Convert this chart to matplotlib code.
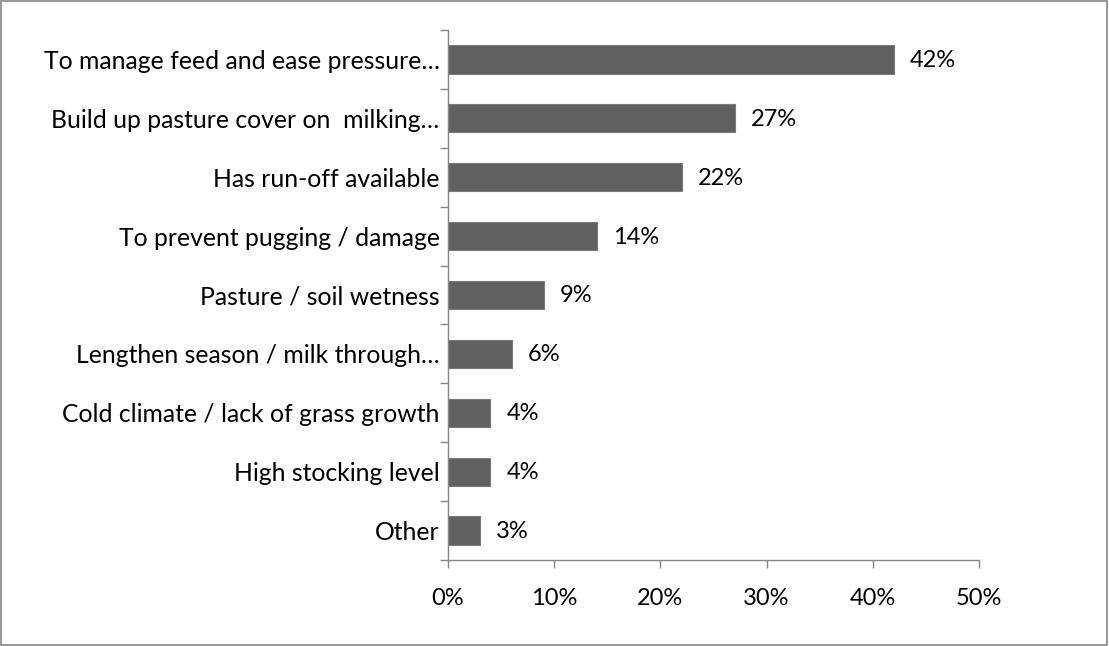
import matplotlib.pyplot as plt
from matplotlib.patches import Rectangle

plt.rcParams['font.family'] = ['Lato', 'DejaVu Sans']

categories = ['To manage feed and ease pressure…',
              'Build up pasture cover on  milking…',
              'Has run-off available',
              'To prevent pugging / damage',
              'Pasture / soil wetness',
              'Lengthen season / milk through…',
              'Cold climate / lack of grass growth',
              'High stocking level',
              'Other']
values = [42, 27, 22, 14, 9, 6, 4, 4, 3]
xticks = [0, 10, 20, 30, 40, 50]

axis_grey = '#868686'
bar_grey = '#606060'
fs = 17

fig = plt.figure(figsize=(11.09, 6.46), dpi=100)
ax = fig.add_axes([448 / 1109, 1 - 560 / 646, (979 - 448) / 1109, (560 - 30) / 646])

pos = list(range(len(categories)))[::-1]
ax.barh(pos, values, height=0.48, color=bar_grey, edgecolor='#7a7a7a', linewidth=0.8)

for p, v in zip(pos, values):
    ax.annotate(f'{v}%', (v, p), xytext=(16, -1), textcoords='offset pixels',
                va='center', ha='left', fontsize=fs)

ax.set_xlim(0, 50)
ax.set_ylim(-0.5, len(categories) - 0.5)
ax.set_xticks(xticks)
ax.set_xticklabels([f'{t}%' for t in xticks], fontsize=fs)

# category labels on minor ticks, separators on major ticks
ax.set_yticks([i - 0.5 for i in range(len(categories) + 1)])
ax.set_yticklabels([])
ax.set_yticks(pos, minor=True)
ax.set_yticklabels(categories, minor=True, fontsize=17.8)
ax.tick_params(axis='y', which='major', length=6, color=axis_grey, width=1)
ax.tick_params(axis='y', which='minor', length=0, pad=6)
ax.tick_params(axis='x', length=6, color=axis_grey, width=1, pad=14)

for side in ['top', 'right']:
    ax.spines[side].set_visible(False)
for side in ['left', 'bottom']:
    ax.spines[side].set_color(axis_grey)
    ax.spines[side].set_linewidth(1)

fig.patches.append(Rectangle((0.0005, 0.001), 0.998, 0.997, transform=fig.transFigure,
                             fill=False, edgecolor=axis_grey, linewidth=1.2))

fig.savefig('out.png', dpi=100)
